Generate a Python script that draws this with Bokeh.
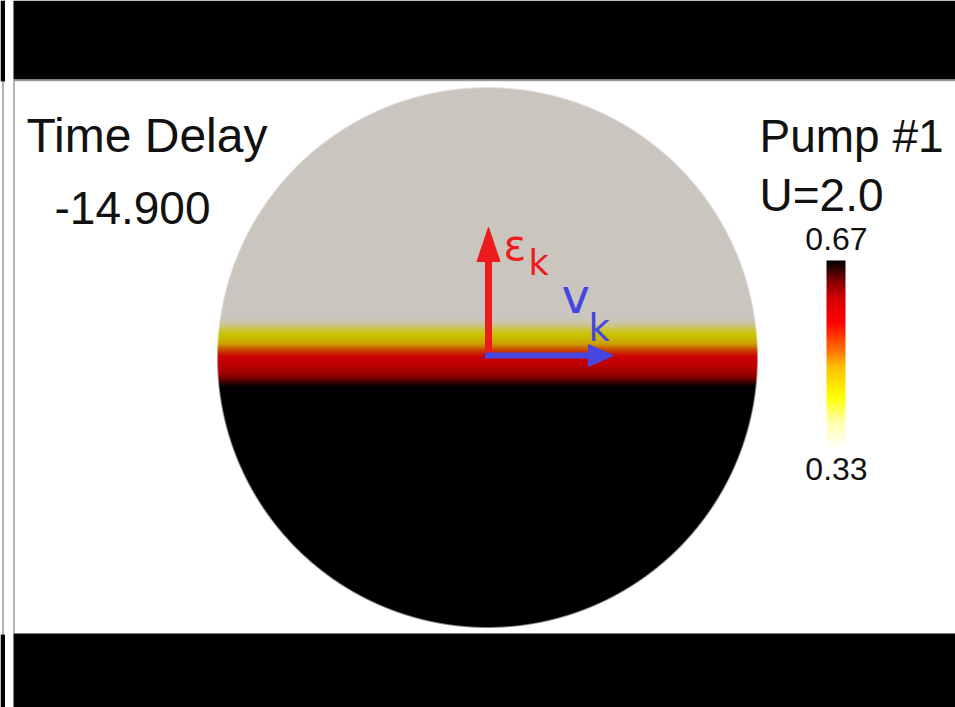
import numpy as np
from bokeh.plotting import figure
from bokeh.models import Range1d
from bokeh.embed import file_html
from bokeh.resources import INLINE
from bokeh.core.properties import value

# ---------------- data ----------------
# occupation profile along the energy axis (energy in units of the k-disc radius)
energy = [0.159, 0.133, 0.107, 0.081, 0.056, 0.033, 0.007, -0.022, -0.052, -0.078, -0.104, -0.130]
occupation = [0.32, 0.345, 0.40, 0.43, 0.46, 0.51, 0.555, 0.575, 0.60, 0.63, 0.665, 0.70]

# colour scale (occupation -> colour)
cmap_values = [0.33, 0.38, 0.425, 0.48, 0.51, 0.56, 0.60, 0.63, 0.67]
cmap_colors = ["#ffffff", "#ffffb0", "#ffff00", "#ffc000", "#ff7000",
               "#ff0000", "#d80000", "#900000", "#000000"]
cbar_ticks = ["0.67", "0.33"]

title_left = "Time Delay"
time_delay = "-14.900"
title_right = "Pump #1"
u_label = "U=2.0"

# ---------------- layout ----------------
W, H = 955, 707
CX, CY, R = 487.0, 357.0, 270.0
SHADE = np.array([202, 197, 190]) / 255.0
BASE_FIX = 0.37  # baseline correction (fraction of font size)


def X(px):
    return (px - CX) / R


def Y(py):
    return (CY - py) / R


def hex2rgb(h):
    h = h.lstrip("#")
    return [int(h[i:i + 2], 16) for i in (0, 2, 4)]


cm_rgb = np.array([hex2rgb(c) for c in cmap_colors], dtype=float)


def colorize(v):
    v = np.clip(v, cmap_values[0], cmap_values[-1])
    return np.stack([np.interp(v, cmap_values, cm_rgb[:, k]) for k in range(3)], axis=-1)


def pack(rgb, alpha):
    n, m = alpha.shape
    img = np.empty((n, m), dtype=np.uint32)
    view = img.view(dtype=np.uint8).reshape((n, m, 4))
    view[..., 0] = np.clip(rgb[..., 0], 0, 255).astype(np.uint8)
    view[..., 1] = np.clip(rgb[..., 1], 0, 255).astype(np.uint8)
    view[..., 2] = np.clip(rgb[..., 2], 0, 255).astype(np.uint8)
    view[..., 3] = np.clip(alpha * 255, 0, 255).astype(np.uint8)
    return img


p = figure(width=W, height=H, x_range=Range1d(X(0), X(W)), y_range=Range1d(Y(H), Y(0)),
           output_backend="svg", toolbar_location=None, x_axis_type=None, y_axis_type=None,
           min_border=0, outline_line_color=None,
           background_fill_color="white", border_fill_color="white")
p.grid.visible = False

# ---- k-disc ----
N = int(2 * R)
g = -1 + (np.arange(N) + 0.5) * 2.0 / N
KX, EY = np.meshgrid(g, g)
occ = np.interp(EY, energy[::-1], occupation[::-1])
rgb = colorize(occ) * SHADE[None, None, :]
rr = np.sqrt(KX ** 2 + EY ** 2)
alpha = np.clip((1 - rr) * R + 0.5, 0, 1)
p.image_rgba(image=[pack(rgb, alpha)], x=-1, y=-1, dw=2, dh=2)

# ---- colour bar ----
NB = 190
cv = np.linspace(cmap_values[0], cmap_values[-1], NB)[:, None] * np.ones((1, 4))
p.image_rgba(image=[pack(colorize(cv), np.ones_like(cv))],
             x=X(826), y=Y(450), dw=19 / R, dh=NB / R)

# ---- frame / letterbox ----
p.quad(left=[X(13), X(13), X(0), X(0)], right=[X(W), X(W), X(4.5), X(4.5)],
       top=[Y(0), Y(633), Y(0), Y(634)], bottom=[Y(79), Y(H), Y(81), Y(H)],
       fill_color="black", line_color=None)
p.segment(x0=[X(2.5), X(13.5), X(13.5)], y0=[Y(81), Y(79), Y(80)],
          x1=[X(2.5), X(13.5), X(W)], y1=[Y(634), Y(633), Y(80)],
          line_color="#9a9a9a", line_width=1.5)

# ---- arrows ----
red = "#ec1c1c"
blue = "#4646e0"
p.segment(x0=[X(488)], y0=[Y(358)], x1=[X(488)], y1=[Y(258)], line_color=red, line_width=7)
p.patch(x=[X(476.5), X(499.5), X(488)], y=[Y(261), Y(261), Y(227)], fill_color=red, line_color=red)
p.segment(x0=[X(484.5)], y0=[Y(355)], x1=[X(590)], y1=[Y(355)], line_color=blue, line_width=6)
p.patch(x=[X(588), X(588), X(613)], y=[Y(344), Y(366), Y(355)], fill_color=blue, line_color=blue)


def put(x, base, txt, size, color, fnt, align="left"):
    p.text(x=[X(v) for v in x], y=[Y(b - BASE_FIX * size) for b in base], text=txt,
           text_color=color, text_font_size=f"{size}px", text_font=value(fnt),
           text_align=align, text_baseline="alphabetic")


put([503], [261], ["ε"], 42, red, "DejaVu Sans")
put([528], [275], ["k"], 35, red, "DejaVu Sans")
put([561], [313], ["v"], 48, blue, "DejaVu Sans")
put([588], [342], ["k"], 37, blue, "DejaVu Sans")

put([26], [153], [title_left], 48, "#111111", "Liberation Sans")
put([54], [225], [time_delay], 46, "#111111", "Liberation Sans")
put([759], [153], [title_right], 46, "#111111", "Liberation Sans")
put([759], [212], [u_label], 46, "#111111", "Liberation Sans")
put([836, 836], [250, 480], cbar_ticks, 32, "#111111", "Liberation Sans", "center")

open("out.html", "w").write(file_html(p, INLINE))
